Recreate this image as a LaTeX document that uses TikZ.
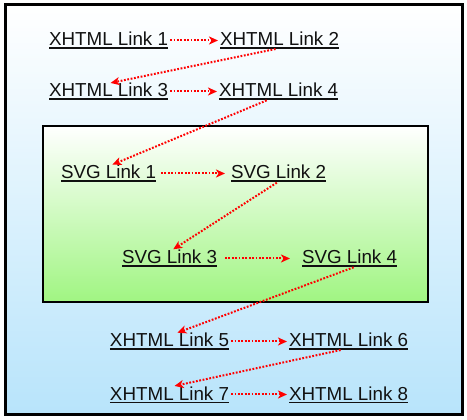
\documentclass[tikz,border=0pt]{standalone}
\usepackage{fontspec}
\setmainfont{Liberation Sans}
\usetikzlibrary{arrows.meta,calc}
\newcommand\ulink[1]{\setbox0\hbox{#1}\rlap{\rule[-2.6pt]{\wd0}{1.1pt}}\box0}
\definecolor{outerbot}{RGB}{184,228,251}
\definecolor{innerbot}{RGB}{160,245,130}
\definecolor{txt}{RGB}{17,17,17}
\tikzset{
  lnk/.style={font=\fontsize{18.8}{20}\selectfont, text=txt, inner sep=0pt, outer sep=0pt, anchor=base west},
  arr/.style={draw=red, line width=2pt, dash pattern=on 1.8pt off 1.6pt, shorten <=2pt, shorten >=2pt, -{Stealth[length=9pt,width=8pt,inset=2.5pt]}},
}
\begin{document}
\begin{tikzpicture}[x=1pt,y=-1pt]
\useasboundingbox (0,0) rectangle (467,420);
\shade[top color=white, bottom color=outerbot] (5,5) rectangle (462,414);
\draw[line width=3pt] (5,5) rectangle (462,414);
\shade[top color=white, bottom color=innerbot] (43,126) rectangle (428,302);
\draw[line width=2.2pt] (43,126) rectangle (428,302);

\node[lnk] (x1) at (49,46) {\ulink{XHTML Link 1}};
\node[lnk] (x2) at (220,46) {\ulink{XHTML Link 2}};
\node[lnk] (x3) at (49,97) {\ulink{XHTML Link 3}};
\node[lnk] (x4) at (219,97) {\ulink{XHTML Link 4}};
\node[lnk] (s1) at (61,179) {\ulink{SVG Link 1}};
\node[lnk] (s2) at (231,179) {\ulink{SVG Link 2}};
\node[lnk] (s3) at (122,264) {\ulink{SVG Link 3}};
\node[lnk] (s4) at (302,264) {\ulink{SVG Link 4}};
\node[lnk] (x5) at (110,347) {\ulink{XHTML Link 5}};
\node[lnk] (x6) at (289,347) {\ulink{XHTML Link 6}};
\node[lnk] (x7) at (110,400) {\ulink{XHTML Link 7}};
\node[lnk] (x8) at (289,400) {\ulink{XHTML Link 8}};

\draw[arr] (x1.east) -- (x2.west);
\draw[arr] ([xshift=-2pt]x2.south) -- (x3.north);
\draw[arr] (x3.east) -- (x4.west);
\draw[arr] ([xshift=-10pt]x4.south) -- ([xshift=2pt]s1.north);
\draw[arr] ([xshift=3pt]s1.east) -- ([xshift=-4pt]s2.west);
\draw[arr] (s2.south) -- ([xshift=2pt]s3.north);
\draw[arr] ([xshift=6pt]s3.east) -- ([xshift=-10pt]s4.west);
\draw[arr] ([xshift=6pt]s4.south) -- ([xshift=6pt]x5.north);
\draw[arr] (x5.east) -- (x6.west);
\draw[arr] ([xshift=-6pt]x6.south) -- ([xshift=3pt]x7.north);
\draw[arr] (x7.east) -- (x8.west);
\end{tikzpicture}
\end{document}
